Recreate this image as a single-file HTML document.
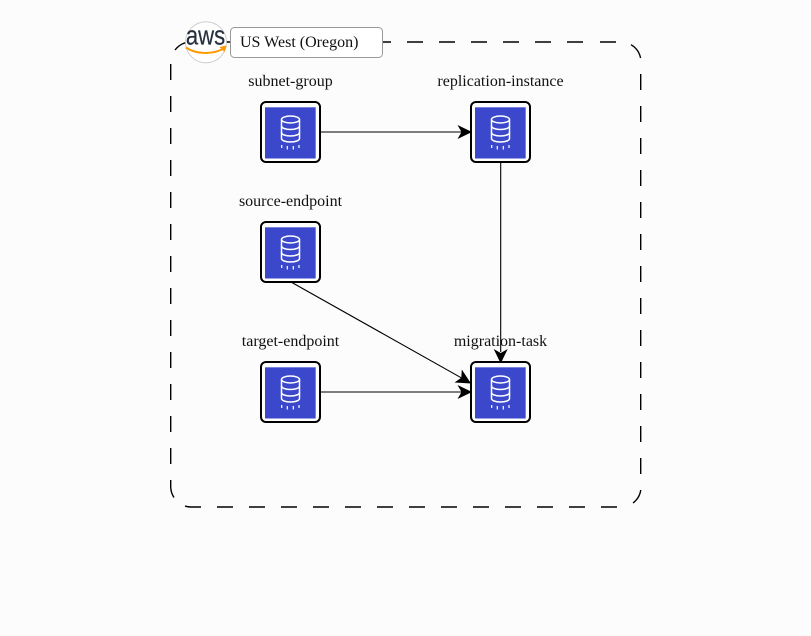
<!DOCTYPE html>
<html><head><meta charset="utf-8"><style>
html,body{margin:0;padding:0;background:#fcfcfc}
svg{display:block}
text{font-family:"Liberation Serif",serif;font-size:16px;fill:#111;text-anchor:middle}
</style></head><body>
<svg width="811" height="636" viewBox="0 0 811 636" xmlns="http://www.w3.org/2000/svg">
<defs>
<g id="n">
<rect x="1" y="1" width="59" height="60" rx="5" fill="#fff" stroke="#000" stroke-width="2"/>
<rect x="5" y="6" width="51" height="51.500" fill="#b9bef0"/>
<rect x="5" y="6.500" width="50.500" height="51" fill="#3b48cc"/>
<g fill="none" stroke="#fff" stroke-width="1.500">
<ellipse cx="30.500" cy="18.500" rx="9" ry="3.500"/>
<path d="M21.500 18.500V37.500C21.500 39.500 25.500 41 30.500 41S39.500 39.500 39.500 37.500V18.500"/>
<path d="M21.500 25C21.500 27 25.500 28.500 30.500 28.500S39.500 27 39.500 25"/>
<path d="M21.500 31.500C21.500 33.500 25.500 35 30.500 35S39.500 33.500 39.500 31.500"/>
<path d="M21.700 44V47M27.300 45V48.500M33.300 45V48.500M39 44V47" stroke-width="1.200"/>
</g>
</g>
</defs>
<path fill="none" stroke="#000" stroke-width="1.400" d="
M175 50A20 20 0 0 1 191 42H199
M215 42H231M375 42H391M407 42H423M439 42H455M471 42H487M503 42H519M535 42H551M567 42H583M600 42H616
M631 44.700A20 20 0 0 1 640.600 58
M640.700 74V90M640.700 106V122M640.700 138V154M640.700 170V186M640.700 202V218M640.700 234V250M640.700 266V282M640.700 298V314M640.700 330V346M640.700 362V378M640.700 394V410M640.700 426V442M640.700 458V474
M640.800 490A20 20 0 0 1 633 503
M601 507H617M569 507H585M537 507H553M505 507H521M473 507H489M441 507H457M409 507H425M377 507H393M345 507H361M313 507H329M281 507H297M249 507H265M217 507H233
M185 506.100A20 20 0 0 0 191 507H201
M174 497.500A20 20 0 0 1 170.700 487V480
M170.700 448V464M170.700 416V432M170.700 384V400M170.700 352V368M170.700 320V336M170.700 288V304M170.700 256V272M170.700 224V240M170.700 192V208M170.700 160V176M170.700 128V144M170.700 96V112M170.700 64V80"/>

<path d="M321 132H462M500.700 162V352M291 282L461.300 377.800M321 392H462" fill="none" stroke="#000" stroke-width="1.100"/>
<path d="M472 132L457.500 125L461.500 132L457.500 139Z"/>
<path d="M472 392L457.500 385L461.500 392L457.500 399Z"/>
<path d="M500.700 363.500L493.700 349L500.700 353L507.700 349Z"/>
<path d="M471 383.500L454.500 382.500L461.300 377.800L461.800 369.500Z"/>

<use href="#n" x="260" y="101"/>
<use href="#n" x="470" y="101"/>
<use href="#n" x="260" y="221"/>
<use href="#n" x="260" y="361"/>
<use href="#n" x="470" y="361"/>

<text x="290.500" y="86">subnet-group</text>
<text x="500.500" y="86">replication-instance</text>
<text x="290.500" y="206">source-endpoint</text>
<text x="290.500" y="346">target-endpoint</text>
<text x="500.500" y="346">migration-task</text>

<circle cx="206" cy="42.300" r="20.500" fill="#fff" stroke="#c8c8c8" stroke-width="0.800"/>
<text transform="translate(205.500 44.500) scale(.85 1)" style="font-family:'Liberation Sans',sans-serif;font-size:26px;fill:#252f3e;stroke:#252f3e;stroke-width:.2px">aws</text>
<path d="M186 47.500C196 54.500 212 54.500 223 49" fill="none" stroke="#f90" stroke-width="2"/>
<path d="M219.500 47L226.500 45.500L224.500 52Z" fill="#f90"/>

<rect x="230.500" y="27.500" width="152" height="30" rx="4" fill="#fff" stroke="#999" stroke-width="1"/>
<text x="240" y="47" style="text-anchor:start">US West (Oregon)</text>
</svg>
</body></html>
